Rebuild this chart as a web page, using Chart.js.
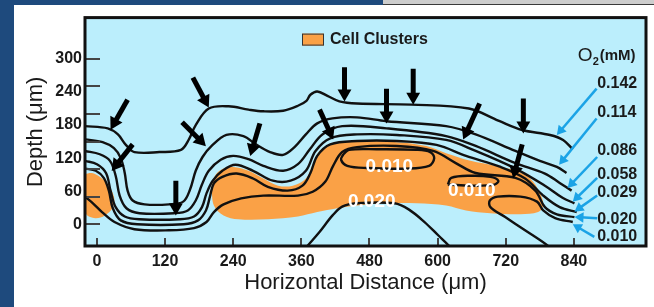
<!DOCTYPE html>
<html>
<head>
<meta charset="utf-8">
<script src="https://cdn.jsdelivr.net/npm/chart.js@4.4.1/dist/chart.umd.min.js"></script>
<style>
  html, body { margin: 0; padding: 0; }
  body { width: 654px; height: 307px; background: #1e4a7d; position: relative; overflow: hidden; }
  #strip { position: absolute; left: 383px; top: 0; width: 271px; height: 4px; background: #cdcdcd; border-bottom: 1px solid #3a3a3a; }
  #panel { position: absolute; left: 14px; top: 5px; width: 640px; height: 302px; background: #fff; }
</style>
</head>
<body>
<div id="strip"></div>
<div id="panel"><canvas id="o2Chart" width="640" height="302"></canvas></div>
<script>
const FONT = "'Liberation Sans', Arial, Helvetica, sans-serif";

// --- axes (μm) ---
const xTickValues = [0, 120, 240, 360, 480, 600, 720, 840];
const yTickValues = [0, 60, 120, 180, 240, 300];
const yTickMarks = [0, 50, 100, 150, 200, 250, 300];

// --- O2 levels (mM) and where their labels sit on the right ---
const o2Levels = ["0.142", "0.114", "0.086", "0.058", "0.029", "0.020", "0.010"];
const o2LabelDepth = [256, 203, 133, 90, 57, 9, -22];
const o2LabelX = 881;
const o2HeadingPos = [847, 305];

// labels written inside the clusters
const clusterLabels = ["0.010", "0.010", "0.020"];
const clusterLabelX = [515, 660, 484];
const clusterLabelY = [105, 61, 41];

// --- contour lines, [distance, depth] in μm ---
const c142 = [[-21,178],[19,174],[37,163],[51,144],[66,131],[110,131],[148,135],[162,154],[174,180],[197,210],[232,214],[267,208],[293,205],[328,206],[354,215],[369,224],[376,235],[388,241],[406,233],[427,223],[458,219],[554,217],[655,210],[707,188],[749,171],[798,162],[821,153],[838,136]];
const c114 = [[-21,154],[10,149],[30,138],[42,120],[49,93],[54,61],[63,43],[84,36],[127,36],[152,41],[164,63],[174,97],[186,122],[202,142],[228,162],[258,160],[280,145],[305,131],[328,126],[348,140],[368,163],[388,183],[415,192],[458,194],[510,187],[615,178],[667,163],[737,133],[780,115],[810,104],[827,93]];
const c086 = [[-21,133],[5,127],[23,115],[33,88],[40,52],[52,29],[75,20],[136,20],[160,25],[174,43],[185,72],[197,97],[218,117],[240,124],[267,118],[293,106],[328,97],[354,109],[375,136],[397,163],[432,178],[510,174],[615,160],[667,142],[737,111],[789,92],[815,75],[836,61]];
const c058 = [[-21,115],[0,109],[16,93],[24,61],[33,31],[49,14],[75,9],[145,9],[171,14],[185,31],[193,56],[204,79],[221,97],[244,108],[275,97],[310,79],[341,79],[368,97],[385,133],[411,156],[458,163],[528,162],[615,153],[667,133],[737,101],[789,70],[820,48],[841,38]];
const c029 = [[-21,101],[-2,97],[12,84],[21,61],[28,29],[42,7],[71,0],[153,0],[178,7],[192,25],[199,50],[206,74],[221,86],[246,92],[275,83],[301,68],[336,61],[362,70],[376,93],[388,124],[411,145],[458,151],[528,151],[598,144],[650,124],[711,104],[754,83],[786,52],[815,31],[845,22]];
const c020 = [[-21,50],[-7,38],[9,22],[31,4],[66,-9],[127,-11],[171,-7],[193,4],[206,22],[223,36],[254,47],[293,52],[354,52],[380,59],[402,77],[416,106],[432,131],[458,140],[528,142],[592,133],[632,111],[667,93],[737,84],[772,61],[789,31],[810,18],[841,13]];
const c010 = [[803,-50],[794,-39],[754,-11],[719,13],[693,31],[692,43],[706,50],[746,50],[775,41],[786,25],[807,11],[838,4]];
const loop010a = [[434,127],[444,135],[493,136],[563,135],[587,131],[594,120],[585,106],[545,101],[476,102],[441,106],[430,117],[434,127]];
const loop010b = [[618,72],[624,84],[658,88],[693,86],[707,79],[700,72],[660,70],[618,72]];
const arc020 = [[362,-50],[371,-39],[392,-14],[415,16],[432,32],[458,38],[524,38],[549,27],[577,4],[601,-20],[620,-39],[629,-50]];

// --- cell clusters (outlines) ---
const clusterLeft = [[-25,90],[-9,93],[5,86],[19,72],[30,50],[28,31],[14,16],[-3,11],[-19,18],[-30,50],[-25,90]];
const clusterMain = [[202,70],[209,90],[223,101],[240,104],[267,97],[293,83],[319,70],[345,70],[368,83],[380,109],[392,133],[415,145],[458,151],[528,149],[580,142],[615,129],[658,115],[702,106],[737,97],[763,83],[780,57],[786,34],[777,22],[746,18],[693,20],[650,25],[615,34],[563,38],[510,38],[458,34],[423,29],[388,22],[354,14],[301,9],[249,9],[223,16],[206,34],[202,70]];

// --- arrows ---
const arrowFrom = [[54,226],[63,145],[169,266],[150,185],[287,183],[139,79],[392,208],[436,285],[557,282],[510,246],[674,219],[751,228],[749,145]];
const arrowTo = [[24,172],[26,97],[197,212],[192,142],[270,124],[139,16],[416,154],[436,223],[557,217],[510,183],[645,154],[751,165],[733,84]];
const levelArrowFrom = [[880,246],[880,192],[881,122],[881,84],[881,52],[881,11],[876,-23]];
const levelArrowTo = [[810,162],[814,108],[829,66],[838,41],[841,23],[841,13],[838,0]];

const clusterColor = "#faa146";
const skyBlue = "#1ba3e6";

const toPts = (arr) => arr.map(([x, y]) => ({ x, y }));

// shaft runs to the middle of the head; head tip lands on the arrow end
function buildArrows(from, to, headR, color, width) {
  const shafts = [];
  const heads = [];
  const rots = [];
  from.forEach((f, i) => {
    const t = to[i];
    const dx = t[0] - f[0], dy = t[1] - f[1];
    const len = Math.hypot(dx, dy);
    const back = headR * 1.77;
    const cx = t[0] - (dx / len) * back;
    const cy = t[1] - (dy / len) * back;
    shafts.push({
      data: [{ x: f[0], y: f[1] }, { x: cx, y: cy }],
      showLine: true, borderColor: color, borderWidth: width,
      borderCapStyle: "butt", pointRadius: 0, order: 1,
    });
    heads.push({ x: cx, y: cy });
    rots.push((Math.atan2(dx, dy) * 180) / Math.PI);
  });
  const headSet = {
    data: heads, showLine: false, pointStyle: "triangle",
    pointRadius: headR, pointHoverRadius: headR, pointRotation: rots,
    pointBackgroundColor: color, pointBorderWidth: 0, order: 0,
  };
  return [...shafts, headSet];
}

const contourSets = [c142, c114, c086, c058, c029, c020, c010, loop010a, loop010b, arc020].map((c) => ({
  data: toPts(c), showLine: true, borderColor: "#111", borderWidth: 2.4,
  tension: 0.35, pointRadius: 0, fill: false, order: 2,
}));

const clusterSets = [clusterLeft, clusterMain].map((c) => ({
  data: toPts(c), showLine: true, borderWidth: 0, borderColor: "rgba(0,0,0,0)",
  backgroundColor: clusterColor, fill: "shape", tension: 0.35, pointRadius: 0, order: 3,
}));

const framePlugin = {
  id: "frame",
  beforeDraw(chart) {
    const { ctx, chartArea: a } = chart;
    ctx.save();
    ctx.fillStyle = "#bbeefc";
    ctx.fillRect(a.left, a.top, a.right - a.left, a.bottom - a.top);
    ctx.restore();
  },
  afterDraw(chart) {
    const { ctx, chartArea: a, scales: { x, y } } = chart;
    ctx.save();
    ctx.strokeStyle = "#444";
    ctx.lineWidth = 2;
    ctx.beginPath();
    yTickMarks.forEach((v) => {
      const py = Math.round(y.getPixelForValue(v));
      ctx.moveTo(a.left, py);
      ctx.lineTo(a.left + 15, py);
    });
    xTickValues.forEach((v) => {
      const px = Math.round(x.getPixelForValue(v));
      ctx.moveTo(px, a.bottom);
      ctx.lineTo(px, a.bottom - 8);
    });
    ctx.stroke();
    ctx.strokeStyle = "#111";
    ctx.lineWidth = 3;
    ctx.strokeRect(a.left, a.top, a.right - a.left, a.bottom - a.top);
    ctx.restore();
  },
};

const labelPlugin = {
  id: "labels",
  afterDatasetsDraw(chart) {
    const { ctx, chartArea: a, scales: { x, y } } = chart;
    ctx.save();
    ctx.textBaseline = "middle";

    // white labels inside the clusters
    ctx.fillStyle = "#fff";
    ctx.font = "bold 19px " + FONT;
    ctx.textAlign = "center";
    clusterLabels.forEach((t, i) => {
      ctx.fillText(t, x.getPixelForValue(clusterLabelX[i]), y.getPixelForValue(clusterLabelY[i]));
    });

    // level values on the right
    ctx.fillStyle = "#1a1a1a";
    ctx.textAlign = "left";
    ctx.font = "bold 16px " + FONT;
    o2Levels.forEach((t, i) => {
      ctx.fillText(t, x.getPixelForValue(o2LabelX), y.getPixelForValue(o2LabelDepth[i]));
    });

    // O2 (mM) heading
    const hx = x.getPixelForValue(o2HeadingPos[0]);
    const hy = y.getPixelForValue(o2HeadingPos[1]);
    ctx.font = "19px " + FONT;
    ctx.fillText("O", hx, hy);
    let w = ctx.measureText("O").width;
    ctx.font = "bold 11px " + FONT;
    ctx.fillText("2", hx + w, hy + 6);
    w += ctx.measureText("2").width + 1;
    ctx.font = "bold 15px " + FONT;
    ctx.fillText("(mM)", hx + w, hy);

    // legend
    const lx = a.left + 217, ly = a.top + 16;
    ctx.fillStyle = clusterColor;
    ctx.fillRect(lx, ly, 22, 12);
    ctx.strokeStyle = "#333";
    ctx.lineWidth = 1;
    ctx.strokeRect(lx + 0.5, ly + 0.5, 21, 11);
    ctx.fillStyle = "#1a1a1a";
    ctx.font = "bold 16px " + FONT;
    ctx.fillText("Cell Clusters", lx + 28, ly + 6);
    ctx.restore();
  },
};

document.addEventListener("DOMContentLoaded", () => {
  const canvas = document.getElementById("o2Chart");
  new Chart(canvas, {
    type: "scatter",
    data: {
      datasets: [
        ...buildArrows(levelArrowFrom, levelArrowTo, 6, skyBlue, 2.5),
        ...buildArrows(arrowFrom, arrowTo, 8, "#000", 5),
        ...contourSets,
        ...clusterSets,
      ],
    },
    options: {
      responsive: false,
      animation: false,
      layout: { padding: { top: 10, right: 2, left: 0, bottom: 0 } },
      plugins: { legend: { display: false }, tooltip: { enabled: false } },
      scales: {
        x: {
          type: "linear", min: -21, max: 967,
          grid: { display: false, drawTicks: false },
          border: { display: false },
          afterBuildTicks: (s) => { s.ticks = xTickValues.map((v) => ({ value: v })); },
          afterFit: (s) => { s.height = 61; },
          ticks: { padding: 6, color: "#1a1a1a", font: { family: FONT, size: 16, weight: "bold" }, maxRotation: 0, autoSkip: false },
          title: { display: true, text: "Horizontal Distance (μm)", color: "#1a1a1a", font: { family: FONT, size: 22 }, padding: { top: 0, bottom: 11 } },
        },
        y: {
          type: "linear", min: -39.5, max: 375,
          grid: { display: false, drawTicks: false },
          border: { display: false },
          afterBuildTicks: (s) => { s.ticks = yTickValues.map((v) => ({ value: v })); },
          afterFit: (s) => { s.width = 71; },
          ticks: { padding: 3, color: "#1a1a1a", font: { family: FONT, size: 16, weight: "bold" }, autoSkip: false },
          title: { display: true, text: "Depth (μm)", color: "#1a1a1a", font: { family: FONT, size: 22 }, padding: { top: 9, bottom: 0 } },
        },
      },
    },
    plugins: [framePlugin, labelPlugin],
  });
});
</script>
</body>
</html>
